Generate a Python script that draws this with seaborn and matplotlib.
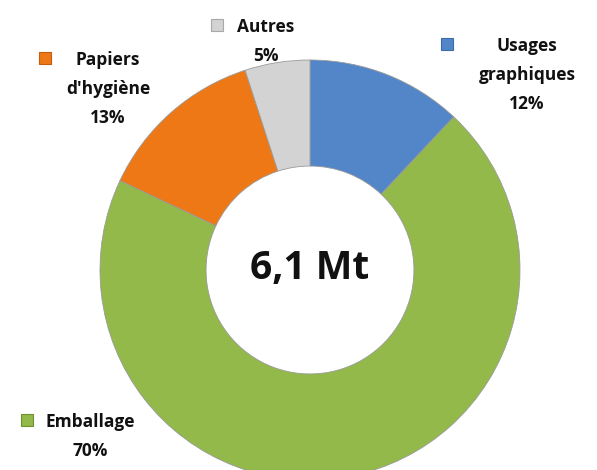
import matplotlib
matplotlib.use("Agg")
import matplotlib.pyplot as plt
import seaborn as sns

# Consommation de papiers et cartons par usage
categories = ["Usages\ngraphiques", "Emballage", "Papiers\nd'hygiène", "Autres"]
shares = [12, 70, 13, 5]
colors = ["#5386C8", "#92B94A", "#EE7816", "#D3D3D3"]
edge_colors = ["#3E6CA8", "#6F9130", "#C05E0C", "#A8A8A8"]
total_label = "6,1 Mt"

sns.set_theme(style="white")
plt.rcParams["font.family"] = ["Open Sans", "DejaVu Sans"]

fig = plt.figure(figsize=(5.97, 4.70), dpi=100)
ax = fig.add_axes([0, 0, 1, 1])

# pixel-like coordinates, y up
cx, cy, r = 310, 200, 210
wedges, _ = ax.pie(
    shares,
    colors=colors,
    startangle=90,
    counterclock=False,
    center=(cx, cy),
    radius=r,
    wedgeprops=dict(width=r * 0.505, edgecolor="#9a9a9a", linewidth=0.6),
)

ax.set_xlim(0, 597)
ax.set_ylim(0, 470)
ax.set_aspect("equal")
ax.axis("off")

ax.text(cx, cy + 1, total_label, ha="center", va="center", fontsize=28,
        fontweight="bold", color="#111111")

# label blocks: marker x, text centre x, first line y (from top)
label_pos = [(447, 527, 44), (27, 90, 420), (45, 108, 58), (217, 266, 25)]
for (mx, tx, ty), cat, val, col, ec in zip(label_pos, categories, shares, colors, edge_colors):
    ax.plot(mx, 470 - ty, marker="s", markersize=8.5, color=col,
            markeredgecolor=ec, markeredgewidth=0.8, clip_on=False)
    lines = cat.split("\n") + [f"{val}%"]
    for i, line in enumerate(lines):
        ax.text(tx, 470 - ty - i * 29, line, ha="center", va="center_baseline",
                fontsize=12.5, fontweight="bold", color="#111111")

fig.savefig("out.png", dpi=100)
